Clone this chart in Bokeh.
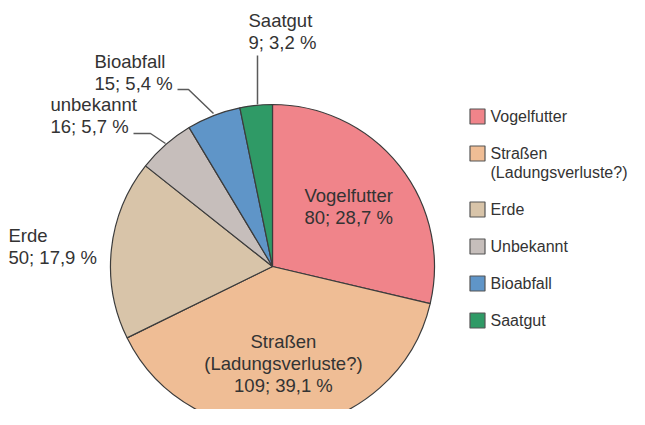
import math
from bokeh.plotting import figure
from bokeh.models import Range1d, ColumnDataSource
from bokeh.core.properties import value
from bokeh.embed import file_html
from bokeh.resources import INLINE

# ---- data ----
categories = ["Vogelfutter", "Straßen (Ladungsverluste?)", "Erde", "Unbekannt", "Bioabfall", "Saatgut"]
legend_labels = [["Vogelfutter"], ["Straßen", "(Ladungsverluste?)"], ["Erde"], ["Unbekannt"], ["Bioabfall"], ["Saatgut"]]
slice_label_names = [["Vogelfutter"], ["Straßen", "(Ladungsverluste?)"], ["Erde"], ["unbekannt"], ["Bioabfall"], ["Saatgut"]]
counts = [80, 109, 50, 16, 15, 9]
percents = ["28,7", "39,1", "17,9", "5,7", "5,4", "3,2"]
colors = ["#F0848A", "#EFBD95", "#D8C4A9", "#C6BEBB", "#5F95C8", "#2F9A66"]

# ---- layout (reference pixel coordinates) ----
W, H = 645, 425
PW, PH = 629, 409
def Y(ry):
    return H - ry

cx, cy, R = 272, 266, 162
FONT = "Liberation Sans"
TXT = "#333333"
LH = 22  # label line height

p = figure(width=PW, height=PH, output_backend="svg", toolbar_location=None,
           x_range=Range1d(0, PW), y_range=Range1d(H - PH, H),
           min_border=0, outline_line_color=None)
p.axis.visible = False
p.grid.visible = False
p.background_fill_color = "white"
p.border_fill_color = "white"

total = sum(counts)
starts, ends, mids = [], [], []
cum = 0
for c in counts:
    a0 = math.pi / 2 - 2 * math.pi * cum / total
    cum += c
    a1 = math.pi / 2 - 2 * math.pi * cum / total
    starts.append(a0)
    ends.append(a1)
    mids.append((a0 + a1) / 2)

src = ColumnDataSource(dict(start=starts, end=ends, color=colors))
p.wedge(x=cx, y=Y(cy), radius=R, start_angle="start", end_angle="end",
        direction="clock", fill_color="color", line_color="#3C3C3C",
        line_width=1.2, source=src)

# ---- slice labels ----
tx, ty, tt, ta = [], [], [], []
inside_frac = 0.6
outside_anchor = {2: (8, 235), 3: (50, 104), 4: (94, 61), 5: (248, 20)}
for i in range(len(counts)):
    lines = slice_label_names[i] + [f"{counts[i]}; {percents[i]} %"]
    if i in outside_anchor:
        x0, y0 = outside_anchor[i]
        for k, ln in enumerate(lines):
            tx.append(x0); ty.append(Y(y0 + k * LH)); tt.append(ln); ta.append("left")
    else:
        r = inside_frac * R
        mx = cx + r * math.cos(mids[i])
        my = cy - r * math.sin(mids[i])
        n = len(lines)
        for k, ln in enumerate(lines):
            yy = my + (k - (n - 1) / 2) * LH
            tx.append(mx); ty.append(Y(yy)); tt.append(ln); ta.append("center")

lsrc = ColumnDataSource(dict(x=tx, y=ty, text=tt, align=ta))
p.text(x="x", y="y", text="text", text_align="align", text_baseline="middle",
       text_font=value(FONT), text_font_size="18.5px", text_color=TXT, source=lsrc)

# ---- leader lines ----
leaders_x = [[257, 257], [177, 188, 213], [133, 150, 165]]
leaders_y = [[55, 104], [89, 89, 113], [133, 133, 143]]
p.multi_line(xs=leaders_x, ys=[[Y(v) for v in ys] for ys in leaders_y],
             line_color="#5A5A5A", line_width=1.5)

# ---- legend ----
sq = 15
lx, ly0, step, extra = 477, 116, 37, 19
gx, gy, gt = [], [], []
sx, sy = [], []
yy = ly0
for i, lab in enumerate(legend_labels):
    sx.append(lx); sy.append(Y(yy))
    for k, ln in enumerate(lab):
        gx.append(490); gy.append(Y(yy + k * extra)); gt.append(ln)
    yy += step + extra * (len(lab) - 1)

p.rect(x=sx, y=sy, width=sq, height=sq, fill_color=colors,
       line_color="#555555", line_width=1.2)
p.text(x=gx, y=gy, text=gt, text_align="left", text_baseline="middle",
       text_font=value(FONT), text_font_size="16px", text_color=TXT)

open("out.html", "w").write(file_html(p, INLINE))
